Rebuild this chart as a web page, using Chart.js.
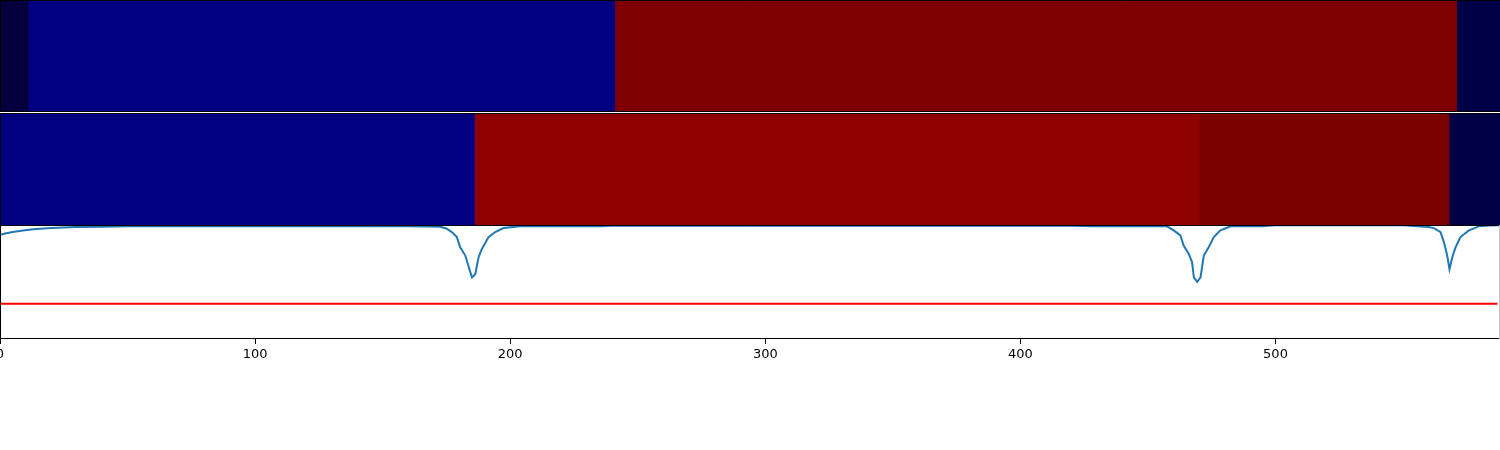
<!DOCTYPE html>
<html>
<head>
<meta charset="utf-8">
<script src="https://cdn.jsdelivr.net/npm/chart.js@4"></script>
<style>
  body { margin: 0; background: #fff; width: 1500px; height: 450px; position: relative; overflow: hidden; }
  canvas { position: absolute; left: 0; }
</style>
</head>
<body>
<canvas id="row-one" width="1500" height="112" style="top:0px"></canvas>
<canvas id="row-two" width="1500" height="113" style="top:113px"></canvas>
<canvas id="signal" width="1500" height="154" style="top:225px"></canvas>
<script>
// x range shared by all three panels
const X_MIN = 0;
const X_MAX = 588;
const xTicks = [0, 100, 200, 300, 400, 500];

// segment boundaries and colours for the two strips
const rowOneEdges = [0, 11, 241, 571, 588];
const rowOneColors = ['#04003d', '#000080', '#7f0000', '#000046'];
const rowTwoEdges = [0, 186, 470, 568, 588];
const rowTwoColors = ['#000080', '#8f0000', '#7c0000', '#000046'];

// the blue trace in the bottom panel
const lineX = [0, 2, 5, 9, 13, 20, 30, 40, 50, 70, 90, 110, 130, 150, 160, 168,
  172.5, 175, 177.1, 179.1, 180.4, 182.4, 183.6, 185, 186.3, 187.6, 188.9, 191.5, 194.1, 197.4, 203.9,
  215, 235, 240, 270, 300, 330, 360, 390, 420, 428, 440, 450, 457.5,
  460.1, 462.7, 464, 466, 467.3, 468, 469.3, 470.6, 471.9, 473.8, 475.8, 478.4, 482.4,
  490, 495, 500, 520, 540, 550, 555.6, 560, 562.1, 564.7, 566, 567.3, 568.2, 569.3, 570.6, 572.5,
  575.8, 579.7, 584, 588];
const lineY = [0.914, 0.925, 0.938, 0.951, 0.962, 0.973, 0.982, 0.985, 0.988, 0.989, 0.99, 0.99, 0.99, 0.99, 0.988, 0.987,
  0.985, 0.969, 0.938, 0.894, 0.805, 0.732, 0.643, 0.540, 0.569, 0.717, 0.790, 0.894, 0.938, 0.973, 0.988,
  0.99, 0.99, 0.994, 0.994, 0.994, 0.994, 0.994, 0.994, 0.994, 0.99, 0.99, 0.99, 0.988,
  0.953, 0.909, 0.820, 0.746, 0.673, 0.540, 0.502, 0.540, 0.732, 0.805, 0.894, 0.953, 0.988,
  0.99, 0.99, 0.998, 0.998, 0.998, 0.998, 0.99, 0.982, 0.973, 0.938, 0.850, 0.732, 0.613, 0.717, 0.805, 0.894,
  0.953, 0.988, 0.995, 0.997];

// the red threshold level
const thresholdX = [0, 587];
const thresholdY = [0.31, 0.31];

// draws the axes frame (spines) around the plot area
const framePlugin = {
  id: 'frame',
  afterDraw(chart, args, opts) {
    const { ctx, chartArea: a } = chart;
    ctx.save();
    ctx.strokeStyle = '#000';
    ctx.lineWidth = 1;
    ctx.beginPath();
    ctx.moveTo(a.left + 0.5, a.bottom - 0.5);
    ctx.lineTo(a.left + 0.5, a.top + 0.5);
    ctx.lineTo(a.right, a.top + 0.5);
    ctx.moveTo(a.left, a.bottom - 0.5);
    ctx.lineTo(a.right, a.bottom - 0.5);
    ctx.stroke();
    if (opts.rightColor) {
      ctx.strokeStyle = opts.rightColor;
      ctx.beginPath();
      ctx.moveTo(a.right - 0.5, a.top);
      ctx.lineTo(a.right - 0.5, a.bottom);
      ctx.stroke();
    }
    ctx.restore();
  }
};

function buildStrip(canvasId, edges, colors) {
  const datasets = [];
  for (let i = 0; i < colors.length; i++) {
    datasets.push({
      data: [[edges[i], edges[i + 1]]],
      backgroundColor: colors[i],
      borderWidth: 0,
      grouped: false,
      barPercentage: 1,
      categoryPercentage: 1,
    });
  }
  return new Chart(document.getElementById(canvasId).getContext('2d'), {
    type: 'bar',
    data: { labels: ['strip'], datasets: datasets },
    options: {
      indexAxis: 'y',
      responsive: false,
      animation: false,
      layout: { padding: 0 },
      plugins: { legend: { display: false }, tooltip: { enabled: false }, frame: {} },
      scales: {
        x: { type: 'linear', min: X_MIN, max: X_MAX, display: false },
        y: { display: false },
      },
    },
    plugins: [framePlugin],
  });
}

const rowOneChart = buildStrip('row-one', rowOneEdges, rowOneColors);
const rowTwoChart = buildStrip('row-two', rowTwoEdges, rowTwoColors);

const signalChart = new Chart(document.getElementById('signal').getContext('2d'), {
  type: 'line',
  data: {
    datasets: [
      {
        data: lineX.map((x, i) => ({ x: x, y: lineY[i] })),
        borderColor: '#1f77b4',
        borderWidth: 2,
        pointRadius: 0,
        tension: 0,
        fill: false,
      },
      {
        data: thresholdX.map((x, i) => ({ x: x, y: thresholdY[i] })),
        borderColor: '#ff0000',
        borderWidth: 2,
        pointRadius: 0,
        fill: false,
      },
    ],
  },
  options: {
    responsive: false,
    animation: false,
    layout: { padding: 0 },
    plugins: { legend: { display: false }, tooltip: { enabled: false }, frame: { rightColor: '#c8c8c8' } },
    scales: {
      x: {
        type: 'linear',
        min: X_MIN,
        max: X_MAX,
        afterBuildTicks: (scale) => { scale.ticks = xTicks.map(v => ({ value: v })); },
        afterFit: (scale) => { scale.paddingLeft = 0; scale.paddingRight = 0; scale.height = 40; },
        border: { display: false },
        grid: { display: true, drawOnChartArea: false, drawTicks: true, tickLength: 5, color: '#000' },
        ticks: {
          color: '#000',
          padding: 3,
          maxRotation: 0,
          autoSkip: false,
          font: { family: 'DejaVu Sans', size: 13 },
        },
      },
      y: { min: 0, max: 1, display: false },
    },
  },
  plugins: [framePlugin],
});
</script>
</body>
</html>
